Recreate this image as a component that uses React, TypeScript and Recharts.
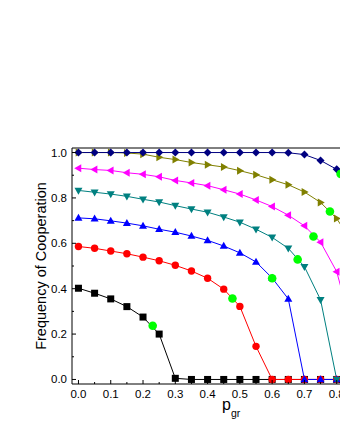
import { ComposedChart, Line, Scatter, XAxis, YAxis, Label } from 'recharts';

// p_gr values shared by all curves
const pGr = [0, 0.05, 0.1, 0.15, 0.2, 0.25, 0.3, 0.35, 0.4, 0.45, 0.5, 0.55, 0.6, 0.65, 0.7, 0.75, 0.8, 0.85];

const blackSquares = [0.402, 0.380, 0.355, 0.321, 0.275, 0.200, 0.005, 0, 0, 0, 0, 0, 0, 0, 0, 0, 0, 0];
const redCircles = [0.586, 0.578, 0.566, 0.554, 0.539, 0.523, 0.503, 0.478, 0.446, 0.398, 0.322, 0.146, 0, 0, 0, 0, 0, 0];
const blueUp = [0.712, 0.708, 0.699, 0.689, 0.677, 0.662, 0.649, 0.632, 0.613, 0.588, 0.558, 0.518, 0.447, 0.355, 0, 0, 0, 0];
const tealDown = [0.833, 0.825, 0.817, 0.807, 0.794, 0.782, 0.766, 0.751, 0.737, 0.716, 0.693, 0.662, 0.626, 0.578, 0.497, 0.351, 0, 0];
const magentaLeft = [0.931, 0.925, 0.921, 0.911, 0.904, 0.893, 0.877, 0.866, 0.854, 0.836, 0.817, 0.791, 0.762, 0.724, 0.677, 0.605, 0.475, 0.21];
const oliveRight = [1.0, 1.0, 1.0, 0.998, 0.993, 0.979, 0.969, 0.956, 0.946, 0.936, 0.920, 0.902, 0.880, 0.858, 0.826, 0.780, 0.709, 0.60];
const navyDiamonds = [1.0, 1.0, 1.0, 1.0, 1.0, 1.0, 1.0, 1.0, 1.0, 1.0, 1.0, 1.0, 1.0, 0.999, 0.991, 0.965, 0.926, 0.86];

// critical points (green)
const criticalX = [0.23, 0.477, 0.6, 0.679, 0.728, 0.779, 0.812];
const criticalY = [0.237, 0.357, 0.446, 0.529, 0.630, 0.740, 0.906];

const xTicks = [0, 0.05, 0.1, 0.15, 0.2, 0.25, 0.3, 0.35, 0.4, 0.45, 0.5, 0.55, 0.6, 0.65, 0.7, 0.75, 0.8, 0.85];
const yTicks = [0, 0.1, 0.2, 0.3, 0.4, 0.5, 0.6, 0.7, 0.8, 0.9, 1.0];

const FONT = '"Liberation Sans", Arial, sans-serif';

const toPoints = (ys: number[]) => pGr.map((x, i) => ({ x, y: ys[i] }));
const criticalData = criticalX.map((x, i) => ({ x, y: criticalY[i] }));

const series = [
    { name: 'black', color: '#000000', shape: 'square', values: blackSquares },
    { name: 'red', color: '#FF0000', shape: 'circle', values: redCircles },
    { name: 'blue', color: '#0000FF', shape: 'up', values: blueUp },
    { name: 'teal', color: '#008080', shape: 'down', values: tealDown },
    { name: 'magenta', color: '#FF00FF', shape: 'left', values: magentaLeft },
    { name: 'olive', color: '#808000', shape: 'right', values: oliveRight },
    { name: 'navy', color: '#000080', shape: 'diamond', values: navyDiamonds },
];

function Marker({ cx, cy, shape, color }: any) {
    if (cx == null || cy == null) return null;
    switch (shape) {
        case 'square':
            return <rect x={cx - 3.5} y={cy - 3.5} width={7} height={7} fill={color} />;
        case 'circle':
            return <circle cx={cx} cy={cy} r={3.7} fill={color} />;
        case 'up':
            return <polygon points={`${cx},${cy - 4.2} ${cx + 4},${cy + 2.8} ${cx - 4},${cy + 2.8}`} fill={color} />;
        case 'down':
            return <polygon points={`${cx},${cy + 4.2} ${cx + 4},${cy - 2.8} ${cx - 4},${cy - 2.8}`} fill={color} />;
        case 'left':
            return <polygon points={`${cx - 4.2},${cy} ${cx + 2.8},${cy - 4} ${cx + 2.8},${cy + 4}`} fill={color} />;
        case 'right':
            return <polygon points={`${cx + 4.2},${cy} ${cx - 2.8},${cy - 4} ${cx - 2.8},${cy + 4}`} fill={color} />;
        case 'diamond':
            return <polygon points={`${cx},${cy - 4} ${cx + 4},${cy} ${cx},${cy + 4} ${cx - 4},${cy}`} fill={color} />;
        default:
            return null;
    }
}

const isMajorX = (v: number) => Math.round(v * 100) % 10 === 0;
const isMajorY = (v: number) => Math.round(v * 10) % 2 === 0;

function BottomTick({ x, y, payload }: any) {
    const major = isMajorX(payload.value);
    if (payload.value > 0.81) return null;
    return (
        <g>
            <line x1={x} y1={y} x2={x} y2={y - (major ? 4 : 2)} stroke="#000" />
            {major && (
                <text x={x} y={y + 14} textAnchor="middle" fontSize={11.5} fontFamily={FONT} fill="#000">
                    {payload.value.toFixed(1)}
                </text>
            )}
        </g>
    );
}

function TopTick({ x, y, payload }: any) {
    const major = isMajorX(payload.value);
    return <line x1={x} y1={y} x2={x} y2={y + (major ? 4 : 2)} stroke="#000" />;
}

function LeftTick({ x, y, payload }: any) {
    const major = isMajorY(payload.value);
    return (
        <g>
            <line x1={x} y1={y} x2={x + (major ? 4 : 2)} y2={y} stroke="#000" />
            {major && (
                <text x={x - 5} y={y + 4} textAnchor="end" fontSize={11.5} fontFamily={FONT} fill="#000">
                    {payload.value.toFixed(1)}
                </text>
            )}
        </g>
    );
}

function YTitle({ viewBox }: any) {
    const cx = viewBox.x + 45.5;
    const cy = viewBox.y + viewBox.height / 2;
    return (
        <text x={cx} y={cy} transform={`rotate(-90, ${cx}, ${cy})`} textAnchor="middle" fontSize={14.5} fontFamily={FONT} fill="#000">
            Frequency of Cooperation
        </text>
    );
}

function XTitle({ viewBox }: any) {
    const x = viewBox.x + 150;
    const y = viewBox.y + 26;
    return (
        <text x={x} y={y} fontFamily={FONT} fill="#000">
            <tspan fontSize={16}>p</tspan>
            <tspan fontSize={10.5} dy={7}>gr</tspan>
        </text>
    );
}

export default function App() {
    return (
        <div style={{ position: 'absolute', left: 0, top: 0, width: 340, height: 440, overflow: 'hidden', background: '#fff' }}>
            <ComposedChart width={372} height={440} margin={{ top: 147, right: 3, bottom: 26, left: 0 }}>
                <XAxis
                    dataKey="x"
                    type="number"
                    domain={[-0.02, 0.9]}
                    ticks={xTicks}
                    interval={0}
                    height={30}
                    tickSize={0}
                    tickMargin={0}
                    tickLine={false}
                    axisLine={{ stroke: '#000' }}
                    tick={<BottomTick />}
                >
                    <Label content={<XTitle />} />
                </XAxis>
                <XAxis
                    xAxisId="top"
                    orientation="top"
                    dataKey="x"
                    type="number"
                    domain={[-0.02, 0.9]}
                    ticks={xTicks}
                    interval={0}
                    height={1}
                    tickSize={0}
                    tickMargin={0}
                    tickLine={false}
                    axisLine={{ stroke: '#000' }}
                    tick={<TopTick />}
                />
                <YAxis
                    dataKey="y"
                    type="number"
                    domain={[-0.02, 1.02]}
                    ticks={yTicks}
                    interval={0}
                    width={72}
                    tickSize={0}
                    tickMargin={0}
                    tickLine={false}
                    axisLine={{ stroke: '#000' }}
                    tick={<LeftTick />}
                >
                    <Label content={<YTitle />} />
                </YAxis>
                {series.map(s => (
                    <Line
                        key={s.name}
                        data={toPoints(s.values)}
                        dataKey="y"
                        type="linear"
                        stroke={s.color}
                        strokeWidth={1}
                        isAnimationActive={false}
                        dot={(p: any) => <Marker key={`${s.name}-${p.index}`} cx={p.cx} cy={p.cy} shape={s.shape} color={s.color} />}
                        activeDot={false}
                    />
                ))}
                <Scatter
                    data={criticalData}
                    dataKey="y"
                    isAnimationActive={false}
                    shape={(p: any) => <circle cx={p.cx} cy={p.cy} r={4.3} fill="#00FF00" />}
                />
            </ComposedChart>
        </div>
    );
}
